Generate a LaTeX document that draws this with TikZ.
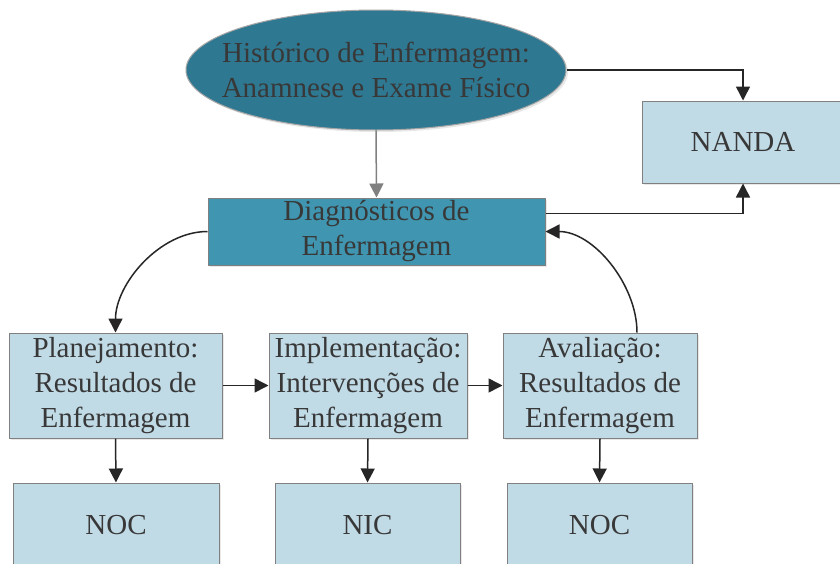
\documentclass[tikz,border=0pt]{standalone}
\usepackage{fontspec}
\setmainfont{Liberation Serif}
\usetikzlibrary{shapes.geometric,arrows.meta,shadows}
\definecolor{darkteal}{HTML}{2F7891}
\definecolor{midteal}{HTML}{4096B0}
\definecolor{lightbox}{HTML}{C0DAE6}
\definecolor{bordergray}{HTML}{808080}
\definecolor{txt}{HTML}{383838}
\tikzset{
  base/.style={draw=bordergray, line width=1pt, text=txt, align=center, inner sep=0pt,
    font=\fontsize{29}{35}\selectfont,
    drop shadow={opacity=0.18, shadow xshift=2pt, shadow yshift=-2pt}},
  histbox/.style={base, ellipse, fill=darkteal, draw=bordergray!70},
  label/.style={text=txt, align=center, inner sep=0pt, font=\fontsize{29}{35}\selectfont},
  diagbox/.style={base, rectangle, fill=midteal},
  lbox/.style={base, rectangle, fill=lightbox},
  conn/.style={line width=1.5pt, draw=black!85, -{Triangle[length=14pt,width=14pt]}},
  gconn/.style={line width=1.5pt, draw=bordergray, -{Triangle[length=14pt,width=14pt]}}
}
\begin{document}
\begin{tikzpicture}[x=1pt,y=-1pt]
\useasboundingbox (0,0) rectangle (840,563);
\clip (0,0) rectangle (840,563);
\fill[white] (0,0) rectangle (840,563);

\node[histbox, minimum width=380pt, minimum height=120pt] (hist) at (376,70) {};
\node[label] (histtext) at (hist.center)
  {Histórico de Enfermagem:\\Anamnese e Exame Físico};
\node[lbox, minimum width=202pt, minimum height=82pt] (nanda) at (743,142) {NANDA};
\node[diagbox, minimum width=337pt, minimum height=67pt] (diag) at (376.5,231.5)
  {Diagnósticos de\\Enfermagem};

\node[lbox, minimum width=213pt, minimum height=105pt] (plan) at (115.5,385.5)
  {Planejamento:\\Resultados de\\Enfermagem};
\node[lbox, minimum width=198pt, minimum height=105pt] (impl) at (368,385.5)
  {Implementação:\\Intervenções de\\Enfermagem};
\node[lbox, minimum width=194pt, minimum height=105pt] (aval) at (600,385.5)
  {Avaliação:\\Resultados de\\Enfermagem};

\node[lbox, minimum width=206pt, minimum height=84pt] (noc1) at (116,525) {NOC};
\node[lbox, minimum width=185pt, minimum height=84pt] (nic) at (367.5,525) {NIC};
\node[lbox, minimum width=185pt, minimum height=84pt] (noc2) at (599.5,525) {NOC};

\draw[gconn] (hist.south) -- (diag.north);
\draw[conn] (hist.east) -| (nanda.north);
\draw[conn] ([yshift=18pt]diag.east) -| (nanda.south);
\draw[conn] (diag.west) to[out=180,in=90,looseness=0.9] (plan.north);
\draw[conn] ([xshift=37pt]aval.north) to[out=90,in=0,looseness=0.9] (diag.east);
\draw[conn] (plan.east) -- (impl.west);
\draw[conn] (impl.east) -- (aval.west);
\draw[conn] (plan.south) -- (noc1.north);
\draw[conn] (impl.south) -- (nic.north);
\draw[conn] (aval.south) -- (noc2.north);
\end{tikzpicture}
\end{document}
